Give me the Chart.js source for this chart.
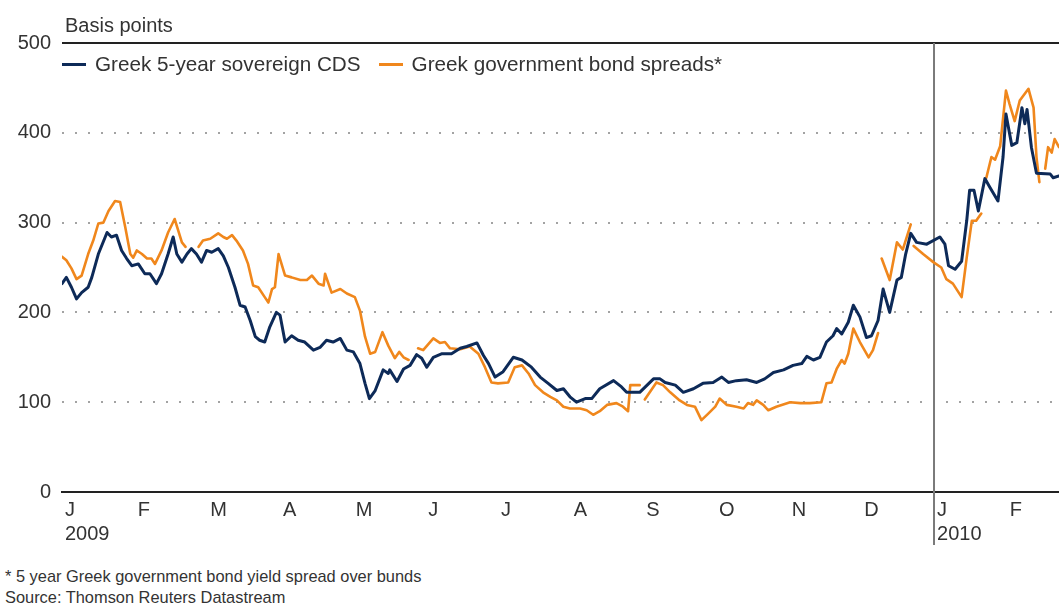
<!DOCTYPE html>
<html>
<head>
<meta charset="utf-8">
<script src="https://cdn.jsdelivr.net/npm/chart.js@4.4.1/dist/chart.umd.min.js"></script>
<style>
  body { margin: 0; background: #fff; font-family: "Liberation Sans", Arial, sans-serif; color: #333; }
  #wrap { position: relative; width: 1059px; height: 604px; overflow: hidden; }
  #chart { position: absolute; left: 0; top: 0; }
  .unit { position: absolute; left: 65px; top: 15px; font-size: 20px; line-height: 20px; }
  #legend { position: absolute; left: 62px; top: 54px; display: flex; font-size: 20.7px; line-height: 20px; white-space: nowrap; }
  #legend .item { display: flex; align-items: center; margin-right: 18px; }
  #legend .swatch { width: 24px; height: 3px; margin-right: 9px; }
  .notes { position: absolute; left: 5px; top: 566px; font-size: 16.4px; line-height: 21px; }
</style>
</head>
<body>
<div id="wrap">
  <canvas id="chart" width="1059" height="552"></canvas>
  <div class="unit">Basis points</div>
  <div id="legend"></div>
  <div class="notes">* 5 year Greek government bond yield spread over bunds<br>Source: Thomson Reuters Datastream</div>
</div>
<script>
// x values are months since 1 Jan 2009
const monthLabels = ['J', 'F', 'M', 'A', 'M', 'J', 'J', 'A', 'S', 'O', 'N', 'D', 'J', 'F'];
const yearLabels = { 0: '2009', 12: '2010' };
const yTicks = [0, 100, 200, 300, 400, 500];

const seriesNames = ['Greek 5-year sovereign CDS', 'Greek government bond spreads*'];
const seriesColors = ['#0d2a58', '#f0871c'];

const cdsMonths = [0.00, 0.06, 0.13, 0.20, 0.27, 0.36, 0.41, 0.50, 0.62, 0.68,
  0.75, 0.82, 0.89, 0.96, 1.05, 1.14, 1.21, 1.30, 1.37, 1.46,
  1.53, 1.58, 1.65, 1.72, 1.78, 1.85, 1.92, 1.99, 2.06, 2.15,
  2.22, 2.29, 2.38, 2.45, 2.52, 2.59, 2.66, 2.72, 2.79, 2.86,
  2.95, 3.00, 3.07, 3.16, 3.25, 3.34, 3.46, 3.55, 3.64, 3.73,
  3.83, 3.92, 4.01, 4.10, 4.17, 4.23, 4.31, 4.42, 4.49, 4.51,
  4.61, 4.70, 4.79, 4.88, 4.95, 5.02, 5.11, 5.23, 5.36, 5.48,
  5.57, 5.71, 5.80, 5.87, 5.96, 6.07, 6.21, 6.33, 6.46, 6.58,
  6.69, 6.81, 6.90, 6.99, 7.08, 7.20, 7.29, 7.40, 7.59, 7.70,
  7.77, 7.95, 8.14, 8.23, 8.30, 8.44, 8.55, 8.69, 8.82, 8.96,
  9.08, 9.17, 9.28, 9.42, 9.56, 9.67, 9.79, 9.93, 10.06, 10.18,
  10.25, 10.34, 10.43, 10.52, 10.61, 10.66, 10.73, 10.82, 10.89, 10.98,
  11.07, 11.14, 11.23, 11.30, 11.39, 11.49, 11.55, 11.61, 11.68, 11.76,
  11.90, 12.08, 12.15, 12.20, 12.29, 12.38, 12.45, 12.49, 12.55, 12.61,
  12.70, 12.77, 12.88, 12.95, 12.99, 13.07, 13.14, 13.21, 13.25, 13.28,
  13.34, 13.41, 13.60, 13.64, 13.72];
const cdsValues = [232, 239, 228, 215, 222, 228, 239, 265, 289, 284,
  286, 269, 260, 252, 254, 243, 243, 232, 243, 265,
  284, 265, 256, 265, 271, 265, 256, 269, 267, 271,
  263, 250, 228, 208, 206, 191, 173, 169, 167, 184,
  200, 197, 167, 174, 169, 167, 158, 161, 169, 167,
  171, 158, 156, 143, 121, 104, 113, 136, 132, 136,
  123, 137, 141, 153, 149, 139, 150, 154, 154, 160,
  162, 166, 152, 143, 128, 134, 150, 147, 139, 128,
  121, 113, 115, 106, 100, 104, 104, 115, 124, 117,
  111, 111, 126, 126, 122, 119, 111, 115, 121, 122,
  128, 122, 124, 125, 122, 126, 133, 136, 141, 143,
  151, 147, 150, 167, 174, 182, 176, 189, 208, 195,
  172, 174, 191, 226, 200, 236, 239, 265, 288, 278,
  276, 284, 276, 252, 248, 257, 302, 336, 336, 313,
  349, 339, 324, 373, 421, 386, 389, 428, 410, 426,
  384, 355, 354, 350, 352];

// null = no quote (line breaks there)
const bondMonths = [0.00, 0.06, 0.13, 0.20, 0.27, 0.36, 0.43, 0.50, 0.57, 0.64,
  0.73, 0.80, 0.87, 0.94, 0.98, 1.03, 1.10, 1.17, 1.23, 1.28,
  1.37, 1.46, 1.55, 1.60, 1.65, 1.70, 1.78, 1.88, 1.94, 2.04,
  2.15, 2.22, 2.27, 2.34, 2.40, 2.49, 2.56, 2.63, 2.70, 2.79,
  2.84, 2.89, 2.93, 2.98, 3.07, 3.16, 3.28, 3.37, 3.44, 3.53,
  3.60, 3.62, 3.71, 3.83, 3.92, 4.03, 4.10, 4.17, 4.24, 4.31,
  4.41, 4.49, 4.58, 4.64, 4.70, 4.77, 4.84, 4.90, 4.97, 5.11,
  5.20, 5.27, 5.34, 5.48, 5.61, 5.73, 5.82, 5.91, 6.00, 6.14,
  6.23, 6.33, 6.42, 6.51, 6.62, 6.72, 6.81, 6.90, 6.99, 7.13,
  7.22, 7.31, 7.40, 7.50, 7.63, 7.72, 7.79, 7.82, 7.95, 7.99,
  8.02, 8.18, 8.27, 8.37, 8.50, 8.60, 8.71, 8.80, 8.89, 8.99,
  9.05, 9.15, 9.28, 9.38, 9.44, 9.51, 9.56, 9.65, 9.72, 9.83,
  10.02, 10.16, 10.29, 10.45, 10.52, 10.59, 10.66, 10.73, 10.77, 10.82,
  10.89, 10.98, 11.10, 11.16, 11.23, 11.25, 11.28, 11.39, 11.49, 11.57,
  11.68, 11.70, 11.72, 11.85, 11.99, 12.10, 12.17, 12.26, 12.38, 12.45,
  12.52, 12.58, 12.65, 12.68, 12.72, 12.79, 12.84, 12.91, 12.99, 13.04,
  13.11, 13.18, 13.30, 13.37, 13.41, 13.45, 13.50, 13.53, 13.57, 13.62,
  13.66, 13.72];
const bondValues = [262, 258, 249, 237, 241, 265, 280, 299, 300, 313,
  324, 323, 295, 265, 261, 269, 265, 260, 260, 254,
  269, 289, 304, 291, 278, 273, null, 273, 280, 282,
  288, 284, 282, 286, 280, 269, 254, 230, 228, 217,
  211, 226, 228, 265, 241, 239, 236, 236, 241, 232,
  230, 243, 222, 226, 221, 217, 202, 173, 154, 156,
  178, 163, 149, 156, 150, 147, null, 160, 158, 171,
  166, 167, 160, 159, 162, 154, 139, 122, 121, 122,
  139, 141, 132, 119, 111, 106, 102, 95, 93, 93,
  91, 86, 90, 97, 99, 95, 90, 119, 119, null,
  103, 122, 119, 111, 102, 97, 95, 80, 87, 95,
  104, 97, 95, 93, 99, 97, 102, 97, 91, 95,
  100, 99, 99, 100, 121, 122, 137, 147, 143, 154,
  182, 167, 150, 158, 177, null, 260, 236, 278, 270,
  298, null, 274, 265, 256, 250, 237, 232, 217, 261,
  302, 302, 310, null, 350, 373, 370, 385, 447, 432,
  413, 436, 449, 428, 373, 345, null, 360, 384, 378,
  393, 384];

const toPoints = (xs, ys) => xs.map((x, i) => ({ x: x, y: ys[i] }));
const tickFont = { family: "'Liberation Sans', Arial, sans-serif", size: 20 };

// legend above the plot
const legendEl = document.getElementById('legend');
seriesNames.forEach((name, i) => {
  const item = document.createElement('span');
  item.className = 'item';
  item.innerHTML = '<span class="swatch" style="background:' + seriesColors[i] + '"></span>' + name;
  legendEl.appendChild(item);
});

// top rule at 500 and the year divider
const framePlugin = {
  id: 'frame',
  beforeDatasetsDraw(chart) {
    const { ctx, chartArea, scales: { x, y } } = chart;
    const yTop = y.getPixelForValue(500);
    const xYear = x.getPixelForValue(12);
    ctx.save();
    ctx.lineWidth = 2;
    ctx.strokeStyle = '#222';
    ctx.beginPath();
    ctx.moveTo(chartArea.left, yTop);
    ctx.lineTo(chartArea.right, yTop);
    ctx.stroke();
    ctx.strokeStyle = '#7a7a7a';
    ctx.beginPath();
    ctx.moveTo(xYear, yTop);
    ctx.lineTo(xYear, chartArea.bottom + 53);
    ctx.stroke();
    ctx.restore();
  }
};

new Chart(document.getElementById('chart').getContext('2d'), {
  type: 'line',
  data: {
    datasets: [
      {
        label: seriesNames[0],
        data: toPoints(cdsMonths, cdsValues),
        borderColor: seriesColors[0],
        borderWidth: 3
      },
      {
        label: seriesNames[1],
        data: toPoints(bondMonths, bondValues),
        borderColor: seriesColors[1],
        borderWidth: 2.6
      }
    ]
  },
  options: {
    responsive: false,
    animation: false,
    devicePixelRatio: 1,
    layout: { padding: { top: 43, left: 0, right: 0, bottom: 0 } },
    elements: {
      point: { radius: 0 },
      line: { tension: 0, borderJoinStyle: 'round', borderCapStyle: 'round' }
    },
    plugins: {
      legend: { display: false },
      tooltip: { enabled: false }
    },
    scales: {
      x: {
        type: 'linear',
        min: 0,
        max: 13.72,
        afterBuildTicks: s => { s.ticks = monthLabels.map((_, i) => ({ value: i })); },
        afterFit: s => { s.height = 60; },
        grid: { drawTicks: false, color: 'rgba(0,0,0,0)' },
        border: { display: true, color: '#222', width: 2 },
        ticks: {
          autoSkip: false,
          maxRotation: 0,
          align: 'start',
          labelOffset: 3,
          padding: 6,
          color: '#333',
          font: tickFont,
          callback: v => yearLabels[v] ? [monthLabels[v], yearLabels[v]] : monthLabels[v]
        }
      },
      y: {
        min: 0,
        max: 500,
        afterBuildTicks: s => { s.ticks = yTicks.map(v => ({ value: v })); },
        afterFit: s => { s.width = 62; },
        grid: {
          drawTicks: false,
          lineWidth: 2,
          color: c => (c.tick && (c.tick.value === 0 || c.tick.value === 500)) ? 'rgba(0,0,0,0)' : '#a3a3a3'
        },
        border: { display: false, dash: [2, 11] },
        ticks: { padding: 11, color: '#333', font: tickFont }
      }
    }
  },
  plugins: [framePlugin]
});
</script>
</body>
</html>
